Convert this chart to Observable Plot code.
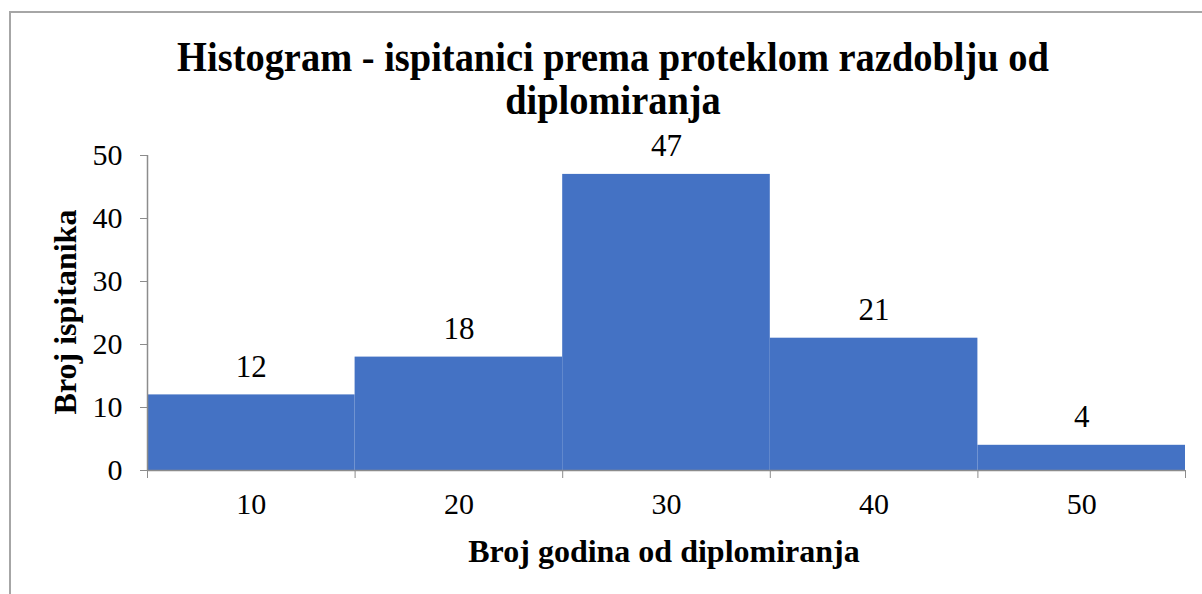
<!DOCTYPE html>
<html>
<head>
<meta charset="utf-8">
<script src="https://cdn.jsdelivr.net/npm/d3@7"></script>
<script src="https://cdn.jsdelivr.net/npm/@observablehq/plot@0.6"></script>
<style>
  html, body { margin: 0; padding: 0; background: #fff; }
  #wrap { position: relative; width: 1202px; height: 594px; overflow: hidden; background: #fff;
          font-family: "Liberation Serif", "Times New Roman", serif; }
  #frame { position: absolute; left: 9px; top: 11px; width: 1300px; height: 700px;
           border-top: 2px solid #a6a6a6; border-left: 2px solid #a6a6a6; }
  #chart { position: absolute; left: 0; top: 0; }
  #chart svg, #chart svg text { font-family: "Liberation Serif", "Times New Roman", serif !important; }
  .t { position: absolute; white-space: nowrap; font-weight: bold; color: #000; }
  .title { font-size: 42px; left: 613px; transform: translate(-50%, -50%) scaleX(0.915); line-height: 1; }
  #xlab { font-size: 32px; left: 664px; top: 551px; transform: translate(-50%, -50%); line-height: 1; }
  #ylab { font-size: 32px; left: 65px; top: 312px; transform: translate(-50%, -50%) rotate(-90deg); line-height: 1; }
</style>
</head>
<body>
<div id="wrap">
  <div id="frame"></div>
  <div id="chart"></div>
  <div class="t title" style="top:57px">Histogram - ispitanici prema proteklom razdoblju od</div>
  <div class="t title" style="top:100px">diplomiranja</div>
  <div class="t" id="xlab">Broj godina od diplomiranja</div>
  <div class="t" id="ylab">Broj ispitanika</div>
</div>
<script>
const categories = [10, 20, 30, 40, 50];
const counts = [12, 18, 47, 21, 4];
const binEdges = [5, 15, 25, 35, 45, 55];
const yTicks = [0, 10, 20, 30, 40, 50];

const data = categories.map((c, i) => ({cat: c, lo: binEdges[i], hi: binEdges[i + 1], count: counts[i]}));

const axisColor = "#8c8c8c";
const plot = Plot.plot({
  width: 1202,
  height: 594,
  marginLeft: 147,
  marginRight: 17,
  marginTop: 155,
  marginBottom: 124,
  style: {fontFamily: "'Liberation Serif', 'Times New Roman', serif", color: "#000", background: "transparent"},
  x: {domain: [binEdges[0], binEdges[binEdges.length - 1]]},
  y: {domain: [0, 50]},
  marks: [
    Plot.rectY(data, {x1: "lo", x2: "hi", y: "count", fill: "#4472C4", inset: 0}),
    Plot.ruleY([0], {stroke: axisColor, strokeWidth: 1.5, x1: binEdges[0], x2: binEdges[binEdges.length - 1]}),
    Plot.ruleX([binEdges[0]], {stroke: axisColor, strokeWidth: 1.5, y1: 0, y2: 50}),
    Plot.axisY({ticks: yTicks, tickSize: 7, tickPadding: 18, stroke: axisColor, fontSize: 30, label: null, tickFormat: d => String(d)}),
    Plot.axisX({ticks: binEdges, tickSize: 8, stroke: axisColor, tickFormat: () => "", label: null}),
    Plot.axisX({ticks: categories, tickSize: 0, tickPadding: 22, fontSize: 30, label: null, tickFormat: d => String(d)}),
    Plot.text(data, {x: "cat", y: "count", text: d => String(d.count), dy: -28, fontSize: 31, fill: "#000", lineAnchor: "middle"})
  ]
});
document.getElementById("chart").appendChild(plot);
</script>
</body>
</html>
